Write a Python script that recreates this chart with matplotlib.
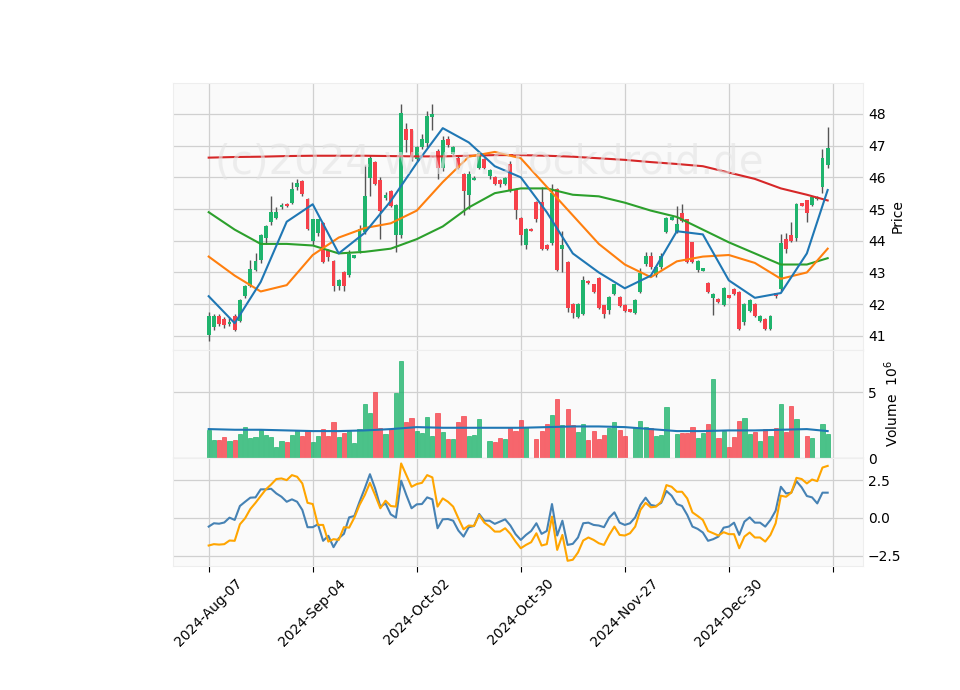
import matplotlib
matplotlib.use("Agg")
import matplotlib.pyplot as plt
import numpy as np

# candles (trading-day index 0..119)
opens = [41.04, 41.3, 41.6, 41.5, 41.38, 41.62, 41.5, 42.27, 42.6, 43.1,
         43.4, 44.1, 44.6, 44.75, 45.08, 45.15, 45.2, 45.7, 45.85, 45.3,
         44.0, 44.25, 44.55, 43.7, 43.35, 42.6, 43.0, 42.95, 43.48, 43.7,
         44.3, 46.0, 46.45, 45.9, 45.38, 45.55, 44.2, 44.2, 47.5, 47.5,
         46.6, 46.97, 47.1, 47.93, 46.8, 46.3, 47.2, 46.75, 46.6, 46.1,
         45.45, 45.94, 46.3, 46.55, 46.05, 46.0, 45.9, 45.8, 46.4, 45.6,
         44.7, 43.9, 44.36, 45.2, 45.2, 43.85, 43.95, 45.6, 43.77, 43.3,
         42.0, 41.6, 41.7, 42.72, 42.6, 42.8, 41.95, 41.85, 42.35, 42.2,
         41.95, 41.82, 41.75, 42.4, 43.3, 43.5, 42.95, 43.2, 44.3, 44.68,
         44.3, 44.85, 44.65, 43.95, 43.1, 43.08, 42.65, 42.2, 42.15, 42.0,
         42.27, 42.45, 42.35, 41.45, 41.8, 42.0, 41.5, 41.5, 41.25, 42.32,
         42.5, 44.05, 44.15, 44.1, 45.17, 45.25, 45.15, 45.34, 45.7, 46.4]
closes = [41.62, 41.6, 41.4, 41.35, 41.42, 41.2, 42.1, 42.55, 43.1, 43.35,
          44.15, 44.45, 44.9, 44.9, 45.12, 45.1, 45.6, 45.8, 45.5, 44.4,
          44.65, 44.65, 43.35, 43.5, 42.6, 42.75, 42.6, 43.55, 43.52, 44.35,
          45.4, 46.6, 45.8, 44.95, 45.42, 45.1, 45.1, 48.0, 47.2, 46.65,
          46.95, 47.2, 47.9, 47.98, 46.3, 47.15, 47.05, 46.95, 46.3, 45.6,
          46.1, 45.96, 46.75, 46.3, 46.2, 45.8, 45.8, 45.95, 45.6, 45.0,
          44.2, 44.35, 44.34, 44.7, 43.75, 43.75, 45.5, 43.1, 43.83, 41.9,
          41.75, 42.0, 42.75, 42.68, 42.4, 41.9, 41.7, 42.2, 42.6, 41.95,
          41.8, 41.78, 42.1, 42.95, 43.5, 43.2, 43.15, 43.5, 44.7, 44.72,
          44.5, 44.65, 43.35, 43.35, 43.35, 43.12, 42.4, 42.3, 42.1, 42.5,
          42.23, 42.35, 41.25, 42.0, 42.1, 41.65, 41.6, 41.25, 41.6, 42.28,
          43.9, 43.75, 44.0, 45.15, 45.13, 44.9, 45.35, 45.36, 46.6, 46.9]
highs = [41.75, 41.7, 41.7, 41.6, 41.55, 41.7, 42.15, 42.6, 43.4, 43.6,
         44.2, 44.5, 45.4, 45.05, 45.2, 45.2, 45.85, 45.95, 45.9, 45.35,
         44.7, 44.7, 44.6, 43.75, 43.4, 42.8, 43.05, 43.7, 43.55, 44.5,
         46.4, 46.7, 46.5, 46.0, 45.55, 45.6, 45.15, 48.3, 47.7, 47.5,
         47.0, 47.35, 48.1, 48.3, 46.9, 47.3, 47.3, 47.0, 46.7, 46.15,
         46.2, 46.05, 46.8, 46.6, 46.25, 46.05, 45.95, 46.0, 46.5, 45.65,
         44.75, 44.4, 44.4, 45.25, 45.7, 43.9, 45.8, 45.65, 44.3, 43.35,
         42.05, 42.05, 42.9, 42.75, 42.65, 42.85, 41.95, 42.25, 42.65, 42.25,
         42.0, 41.85, 42.15, 43.15, 43.65, 43.65, 43.2, 43.6, 44.75, 44.76,
         45.1, 45.15, 44.7, 43.95, 43.4, 43.15, 42.7, 42.35, 42.2, 42.55,
         42.3, 42.5, 42.4, 42.05, 42.15, 42.05, 41.65, 41.55, 41.65, 42.35,
         44.2, 44.25, 44.6, 45.2, 45.2, 45.3, 45.4, 45.4, 46.9, 47.6]
lows = [40.85, 41.2, 41.3, 41.25, 41.3, 41.15, 41.45, 42.2, 42.55, 43.05,
        43.3, 43.9, 44.5, 44.7, 45.0, 45.05, 45.15, 45.6, 45.4, 44.35,
        43.85, 44.15, 43.3, 43.35, 42.4, 42.45, 42.4, 42.85, 43.45, 43.6,
        44.2, 45.4, 45.75, 44.05, 45.3, 45.05, 43.65, 44.1, 46.8, 46.5,
        46.5, 46.9, 46.95, 47.5, 45.95, 46.2, 46.95, 46.7, 46.25, 44.8,
        45.0, 45.9, 46.25, 46.25, 45.95, 45.75, 45.7, 45.75, 45.55, 44.7,
        43.85, 43.75, 44.3, 44.6, 43.7, 43.7, 43.85, 43.05, 43.0, 41.75,
        41.55, 41.55, 41.65, 42.65, 42.35, 41.85, 41.55, 41.7, 42.3, 41.9,
        41.75, 41.75, 41.7, 42.35, 43.2, 43.1, 42.85, 43.1, 44.25, 44.66,
        44.25, 44.6, 43.3, 43.3, 43.0, 43.05, 42.35, 41.65, 42.05, 41.95,
        42.2, 42.3, 41.2, 41.35, 41.75, 41.6, 41.45, 41.2, 41.2, 42.2,
        42.4, 43.6, 43.95, 44.0, 45.1, 44.6, 45.1, 45.3, 45.5, 46.3]

volume = [2.15, 1.4, 1.4, 1.6, 1.3, 1.4, 1.85, 2.35, 1.55, 1.6,
          2.1, 1.75, 1.6, 0.85, 1.3, 1.25, 1.75, 2.15, 1.7, 2.05,
          1.25, 1.7, 2.2, 1.7, 2.75, 1.6, 1.9, 2.05, 1.15, 2.2,
          4.1, 3.45, 5.0, 2.3, 1.85, 2.2, 4.9, 7.35, 2.75, 3.05,
          2.05, 1.9, 3.15, 1.7, 3.45, 2.0, 1.45, 1.45, 2.75, 3.2,
          1.7, 1.75, 3.0, 0.0, 1.3, 1.25, 1.55, 1.45, 2.35, 2.05,
          2.9, 2.35, 0.0, 1.45, 2.05, 2.6, 3.3, 4.5, 2.5, 3.75,
          2.5, 2.0, 2.6, 1.4, 2.05, 1.45, 1.75, 2.3, 2.75, 2.15,
          1.7, 0.0, 2.35, 2.85, 2.35, 2.3, 1.7, 1.75, 3.9, 0.0,
          1.85, 1.9, 1.9, 2.35, 1.55, 1.9, 2.6, 6.0, 1.55, 2.05,
          0.85, 1.6, 2.85, 3.05, 1.85, 2.0, 1.3, 2.2, 1.7, 2.3,
          4.1, 2.0, 3.95, 3.0, 0.0, 1.7, 1.55, 0.0, 2.6, 1.85]

ma_idx = [0, 5, 10, 15, 20, 25, 30, 35, 40, 45, 50, 55, 60, 65, 70, 75, 80, 85, 90, 95, 100, 105, 110, 115, 119]
ma_blue = [42.25, 41.4, 42.7, 44.6, 45.15, 43.6, 44.25, 45.25, 46.45, 47.55, 47.1, 46.35, 46.0,
           44.9, 43.6, 43.0, 42.5, 42.9, 44.3, 44.2, 42.75, 42.2, 42.35, 43.6, 45.6]
ma_orange = [43.5, 42.9, 42.4, 42.6, 43.55, 44.1, 44.4, 44.55, 44.95, 45.85, 46.65, 46.8, 46.6,
             45.7, 44.8, 43.9, 43.25, 42.85, 43.35, 43.5, 43.55, 43.3, 42.8, 43.0, 43.75]
ma_green = [44.9, 44.35, 43.9, 43.9, 43.85, 43.6, 43.65, 43.75, 44.05, 44.45, 45.05, 45.5, 45.65,
            45.65, 45.45, 45.4, 45.2, 44.95, 44.75, 44.35, 43.95, 43.6, 43.25, 43.25, 43.45]
ma_red = [46.62, 46.64, 46.65, 46.67, 46.68, 46.68, 46.68, 46.67, 46.66, 46.66, 46.68, 46.7, 46.7,
          46.68, 46.65, 46.6, 46.55, 46.48, 46.42, 46.35, 46.15, 45.95, 45.65, 45.45, 45.27]
vol_ma = [2.2, 2.15, 2.15, 2.1, 2.05, 2.05, 2.1, 2.2, 2.35, 2.3, 2.3, 2.3, 2.3,
          2.35, 2.4, 2.4, 2.35, 2.2, 2.05, 2.05, 2.1, 2.1, 2.15, 2.2, 2.05]

ind_blue = [-0.57, -0.35, -0.38, -0.3, 0.02, -0.13, 0.79, 1.07, 1.34, 1.36,
            1.89, 1.89, 1.93, 1.62, 1.4, 1.07, 1.23, 1.07, 0.53, -0.61,
            -0.61, -0.42, -1.51, -1.18, -1.93, -1.34, -1.05, 0.04, 0.13, 1.07,
            1.95, 2.89, 1.95, 0.75, 0.96, 0.24, 0.02, 2.46, 1.51, 0.64,
            0.9, 0.92, 1.36, 1.23, -0.68, -0.09, -0.07, -0.18, -0.83, -1.23,
            -0.61, -0.53, 0.26, -0.18, -0.18, -0.39, -0.24, -0.09, -0.5, -1.07,
            -1.45, -1.12, -0.86, -0.35, -1.05, -0.86, 0.92, -1.16, -0.18, -1.78,
            -1.71, -1.29, -0.35, -0.31, -0.46, -0.5, -0.61, 0.02, 0.37, -0.31,
            -0.46, -0.35, 0.04, 0.86, 1.34, 0.86, 0.79, 1.0, 1.78, 1.47,
            0.92, 0.79, 0.2, -0.57, -0.72, -0.96, -1.51, -1.4, -1.23, -0.64,
            -0.57, -0.31, -1.12, -0.24, 0.04, -0.31, -0.31, -0.57, -0.13, 0.48,
            2.06, 1.62, 1.67, 2.43, 2.02, 1.45, 1.36, 0.96, 1.67, 1.67]
ind_orange = [-1.82, -1.73, -1.76, -1.73, -1.49, -1.51, -0.42, -0.02, 0.59, 1.0,
              1.45, 1.89, 2.21, 2.57, 2.61, 2.5, 2.83, 2.72, 2.28, 1.0,
              0.92, -0.46, -0.46, -1.56, -1.4, -1.45, -0.61, -0.64, 0.02, 0.86,
              1.51, 2.32, 1.51, 0.64, 1.14, 0.79, 0.75, 3.6, 2.83, 2.06,
              2.24, 2.32, 2.83, 2.68, 0.75, 1.29, 1.07, 0.75, -0.02, -0.75,
              -0.5, -0.53, 0.2, -0.31, -0.57, -0.9, -0.9, -0.68, -1.05, -1.56,
              -2.0, -1.78, -1.6, -1.01, -1.82, -1.73, 0.09, -2.11, -1.12, -2.83,
              -2.76, -2.28, -1.49, -1.29, -1.45, -1.67, -1.78, -1.12, -0.57, -1.12,
              -1.16, -1.01, -0.57, 0.53, 1.0, 0.7, 0.75, 1.07, 2.17, 2.06,
              1.73, 1.73, 1.29, 0.37, 0.13, -0.13, -0.86, -1.01, -1.16, -0.94,
              -1.07, -1.07, -2.0, -1.23, -0.96, -1.29, -1.29, -1.56, -1.12, -0.35,
              1.47, 1.4, 1.67, 2.65, 2.57, 2.28, 2.54, 2.43, 3.33, 3.44]

tick_pos = [0, 20, 40, 60, 80, 100, 120]
tick_labels = ["2024-Aug-07", "2024-Sep-04", "2024-Oct-02", "2024-Oct-30", "2024-Nov-27", "2024-Dec-30", ""]

up_c, down_c = "#1fb46d", "#f6414a"
x = np.arange(len(closes))
o, c, h, l = map(np.array, (opens, closes, highs, lows))
up = c >= o
cols = np.where(up, up_c, down_c)

fig = plt.figure(figsize=(9.6, 6.9), dpi=100)
L, W = 0.180, 0.719
ax1 = fig.add_axes([L, 0.493, W, 0.387])
ax2 = fig.add_axes([L, 0.336, W, 0.157], sharex=ax1)
ax3 = fig.add_axes([L, 0.180, W, 0.156], sharex=ax1)

for ax in (ax1, ax2, ax3):
    ax.set_facecolor("#fafafa")
    ax.grid(True, color="#d0d0d0", lw=0.9)
    ax.set_axisbelow(True)
    for s in ax.spines.values():
        s.set_color("#eeeeee")
    ax.yaxis.tick_right()
    ax.yaxis.set_label_position("right")
    ax.tick_params(axis="y", length=0, labelsize=10)
    ax.tick_params(axis="x", length=0)

# candles
ax1.vlines(x, l, h, color="#555555", lw=1.0, zorder=2)
ax1.bar(x, np.abs(c - o) + 0.04, bottom=np.minimum(o, c) - 0.02, width=0.75,
        color=cols, zorder=3)
ax1.plot(ma_idx, ma_red, color="#d62728", lw=1.5, zorder=4)
ax1.plot(ma_idx, ma_green, color="#2ca02c", lw=1.5, zorder=4)
ax1.plot(ma_idx, ma_orange, color="#ff7f0e", lw=1.5, zorder=4)
ax1.plot(ma_idx, ma_blue, color="#1f77b4", lw=1.5, zorder=4)
ax1.set_ylim(40.56, 48.98)
ax1.set_yticks(range(41, 49))
ax1.set_ylabel("Price", fontsize=10)
ax1.tick_params(axis="x", labelbottom=False)
fig.text(0.51, 0.765, "(c)2024 www.stockdroid.de", fontsize=29, color="#e4e4e4",
         ha="center", va="center", alpha=0.6, zorder=0)

# volume
ax2.bar(x, volume, width=0.8, color=cols, alpha=0.8, edgecolor=cols, lw=0.6)
ax2.plot(ma_idx, vol_ma, color="#1f77b4", lw=1.5)
ax2.set_ylim(0, 8.2)
ax2.set_yticks([0, 5])
ax2.set_ylabel("Volume  $10^{6}$", fontsize=10)
ax2.tick_params(axis="x", labelbottom=False)

# indicator
ax3.plot(x, ind_blue, color="#4682b4", lw=1.5)
ax3.plot(x, ind_orange, color="#ffa500", lw=1.5)
ax3.set_ylim(-3.16, 3.95)
ax3.set_yticks([-2.5, 0, 2.5])
ax3.set_yticklabels(["\u22122.5", "0.0", "2.5"])

ax3.set_xlim(-6.9, 125.8)
ax3.set_xticks(tick_pos)
ax3.set_xticklabels(tick_labels, rotation=45, ha="center", fontsize=10)
ax3.tick_params(axis="x", length=4, color="black")

fig.savefig("out.png", dpi=100)
